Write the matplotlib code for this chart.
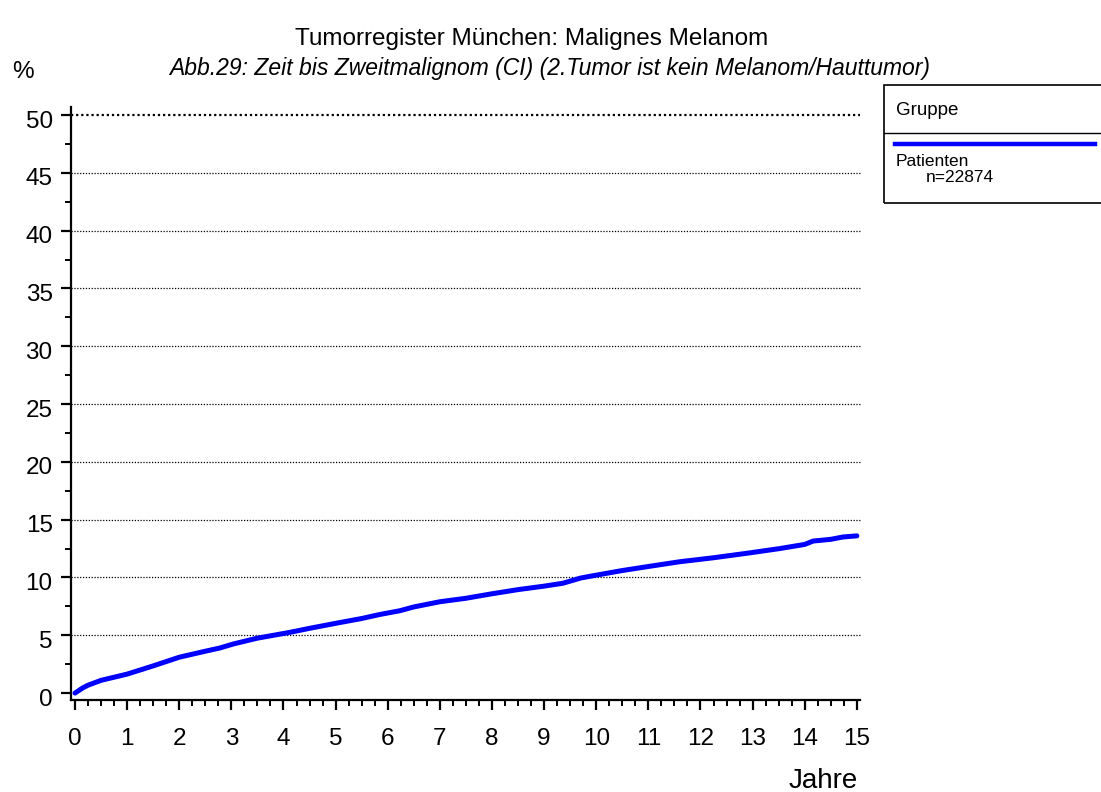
import matplotlib
matplotlib.use("Agg")
import matplotlib.pyplot as plt
from matplotlib.patches import Rectangle
from matplotlib.lines import Line2D
from matplotlib.ticker import MultipleLocator
from matplotlib.transforms import ScaledTranslation

plt.rcParams['font.family'] = ['Liberation Sans', 'DejaVu Sans']

# Cumulative incidence of a second malignancy (years vs. percent)
years = [0.0, 0.15, 0.25, 0.5, 1.0, 1.5, 2.0, 2.5, 2.78, 3.04, 3.5, 4.12, 4.5,
         5.08, 5.5, 5.85, 6.23, 6.5, 7.0, 7.5, 7.96, 8.5, 9.0, 9.36, 9.7, 10.0,
         10.5, 11.0, 11.6, 12.24, 12.9, 13.52, 14.0, 14.16, 14.5, 14.73, 15.0]
percent = [0.0, 0.45, 0.68, 1.1, 1.64, 2.35, 3.1, 3.62, 3.9, 4.25, 4.75, 5.25, 5.6,
           6.1, 6.45, 6.8, 7.12, 7.45, 7.9, 8.2, 8.56, 8.95, 9.25, 9.5, 9.95, 10.2,
           10.6, 10.95, 11.36, 11.7, 12.1, 12.5, 12.86, 13.15, 13.3, 13.5, 13.6]

y_major = [0, 5, 10, 15, 20, 25, 30, 35, 40, 45, 50]
x_major = list(range(0, 16))
group_label = "Patienten"
group_n = "n=22874"

W, H = 1101, 792
fig = plt.figure(figsize=(W / 100, H / 100), dpi=100)
ax = fig.add_axes([70.7 / W, 1 - 700 / H, (860 - 70.7) / W, (700 - 107) / H])

ax.set_xlim(-0.082, 15.06)
ax.set_ylim(-0.6, 50.7)

# dotted reference lines
for yv in y_major[1:]:
    lw = 1.6 if yv == 50 else 0.9
    ax.plot([-0.082, 15.06], [yv, yv], color='black', lw=lw,
            linestyle=(0, (1, 1.3)), zorder=1, clip_on=False)

ax.plot(years, percent, color='#0000ff', lw=3.6, solid_capstyle='round',
        solid_joinstyle='round', zorder=3)

for s in ['top', 'right']:
    ax.spines[s].set_visible(False)
for s in ['left', 'bottom']:
    ax.spines[s].set_linewidth(1.6)

ax.set_xticks(x_major)
ax.set_yticks(y_major)
ax.xaxis.set_minor_locator(MultipleLocator(0.25))
ax.yaxis.set_minor_locator(MultipleLocator(2.5))
ax.tick_params(axis='both', which='major', direction='out', length=7, width=1.6,
               labelsize=17.5, color='black')
ax.tick_params(axis='both', which='minor', direction='out', length=4, width=1.4,
               color='black')
ax.tick_params(axis='x', which='major', pad=13)
ax.tick_params(axis='y', which='major', pad=6)
shift = ScaledTranslation(0, -4 / 100, fig.dpi_scale_trans)
for lab in ax.get_yticklabels():
    lab.set_transform(lab.get_transform() + shift)

# titles and axis captions
fig.text(532 / W, 1 - 45 / H, "Tumorregister München: Malignes Melanom",
         ha='center', va='baseline', fontsize=17.5)
fig.text(550 / W, 1 - 75 / H,
         "Abb.29: Zeit bis Zweitmalignom (CI) (2.Tumor ist kein Melanom/Hauttumor)",
         ha='center', va='baseline', fontsize=16.5, style='italic')
fig.text(12 / W, 1 - 78 / H, "%", ha='left', va='baseline', fontsize=17.5)
fig.text(858 / W, 1 - 788 / H, "Jahre", ha='right', va='baseline', fontsize=20)

# legend box
fig.patches.append(Rectangle((884 / W, 1 - 202.5 / H), 300 / W, (202.5 - 85) / H,
                             transform=fig.transFigure, fill=False,
                             edgecolor='black', lw=1.2))
fig.lines.append(Line2D([884 / W, 1.2], [1 - 133 / H, 1 - 133 / H],
                        transform=fig.transFigure, color='black', lw=1.0))
fig.lines.append(Line2D([895 / W, 1095 / W], [1 - 143.5 / H, 1 - 143.5 / H],
                        transform=fig.transFigure, color='#0000ff', lw=3.2))
fig.text(896 / W, 1 - 115 / H, "Gruppe", ha='left', va='baseline', fontsize=13.5)
fig.text(896 / W, 1 - 166.5 / H, group_label, ha='left', va='baseline', fontsize=12.5)
fig.text(926 / W, 1 - 181.5 / H, group_n, ha='left', va='baseline', fontsize=12.5)

fig.savefig("out.png", dpi=100)
